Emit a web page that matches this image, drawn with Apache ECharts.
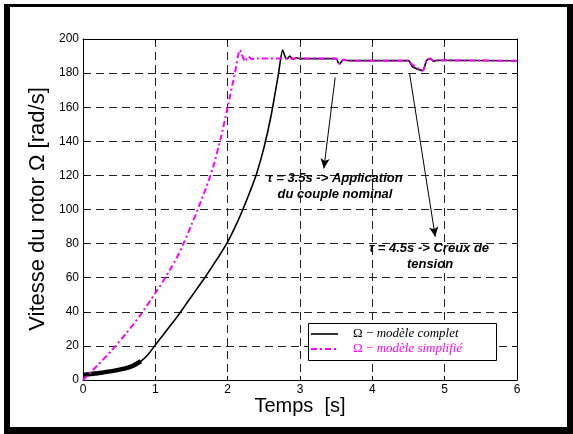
<!DOCTYPE html>
<html><head><meta charset="utf-8">
<script src="https://cdn.jsdelivr.net/npm/echarts@6/dist/echarts.min.js"></script>
<style>html,body{margin:0;padding:0;background:#fff}#c{width:573px;height:434px}</style>
</head><body><div id="c"></div>
<script>
// Temps [s] et vitesse [rad/s] — modèle complet
const tComplet = [0, 0.2, 0.4, 0.6, 0.7, 0.8, 0.9, 1.0, 1.1, 1.2, 1.3, 1.4, 1.5, 1.6, 1.7, 1.8, 1.9, 2.0, 2.1, 2.2, 2.3, 2.4, 2.5, 2.6, 2.7, 2.76, 2.8, 2.82, 2.86, 2.9, 2.95, 3.0, 3.5, 3.53, 3.55, 3.6, 3.63, 3.7, 4.5, 4.55, 4.65, 4.7, 4.75, 4.8, 4.85, 4.9, 6.0];
const vComplet = [3, 4, 5.2, 7, 8.5, 11, 15, 20.5, 26, 31.5, 37, 43, 49, 55, 61, 67.5, 74, 81, 89.5, 99, 109.5, 121, 136, 155, 179, 193.5, 189, 188.3, 190, 188.3, 189, 188.5, 188.5, 186, 185.5, 188, 187.5, 187.3, 187.3, 184, 182, 181.5, 187.5, 188.5, 187, 187.5, 187.2];
// modèle simplifié
const tSimple = [0, 0.2, 0.4, 0.6, 0.8, 1.0, 1.1, 1.2, 1.3, 1.4, 1.5, 1.6, 1.7, 1.8, 1.9, 2.0, 2.1, 2.17, 2.24, 2.29, 2.33, 2.4, 3.5, 3.53, 3.55, 3.6, 3.63, 3.7, 4.5, 4.55, 4.7, 4.75, 4.8, 4.85, 4.9, 6.0];
const vSimple = [0, 8.5, 17.5, 27.5, 38.5, 51, 57.5, 64.5, 72, 81, 91, 101.5, 112.5, 125, 141, 160, 180, 193.6, 186.8, 189.7, 188.3, 188.5, 188.5, 186, 185.5, 188, 187.5, 187.3, 187.3, 185, 181.5, 187.5, 188.5, 187, 187.5, 187.2];
// zone bruitée au démarrage (modèle complet)
const bandEndTime = 0.8;
const xTicks = [0, 1, 2, 3, 4, 5, 6];
const yTicks = [0, 20, 40, 60, 80, 100, 120, 140, 160, 180, 200];
const xLabel = 'Temps  [s]';
const yLabel = 'Vitesse du rotor Ω [rad/s]';
const legendComplet = 'modèle complet';
const legendSimple = 'modèle simplifié';
const note1 = ['τ = 3.5s -> Application', 'du couple nominal'];
const note2 = ['τ = 4.5s -> Creux de', 'tension'];
const arrow1 = [[3.486, 177.4], [3.33, 124.1]];
const arrow2 = [[4.515, 179.7], [4.87, 84]];

const dComplet = tComplet.map((t, i) => [t, vComplet[i]]);
const dSimple = tSimple.map((t, i) => [t, vSimple[i]]);
const dBand = dComplet.filter(p => p[0] <= bandEndTime);

const FONT = '"Liberation Sans", Arial, sans-serif';
const SERIF = '"Liberation Serif", "Times New Roman", serif';

const chart = echarts.init(document.getElementById('c'), null, {renderer: 'canvas'});
const dash = {type: [8, 5], color: '#222', width: 1};
chart.setOption({
  animation: false,
  backgroundColor: 'transparent',
  grid: {left: 83, right: 56, top: 39, bottom: 54, containLabel: false},
  xAxis: [{
    type: 'value', min: xTicks[0], max: xTicks[xTicks.length - 1], interval: 1,
    axisLine: {show: true, onZero: false, lineStyle: {color: '#000', width: 1}},
    axisTick: {show: true, inside: true, length: 4, lineStyle: {color: '#000'}},
    axisLabel: {color: '#000', fontSize: 12, fontFamily: FONT, margin: 4},
    splitLine: {show: true, lineStyle: dash}
  }, {
    type: 'value', position: 'top', min: xTicks[0], max: xTicks[xTicks.length - 1], interval: 1,
    axisLine: {show: true, onZero: false, lineStyle: {color: '#000', width: 1}},
    axisTick: {show: true, inside: true, length: 4, lineStyle: {color: '#000'}},
    axisLabel: {show: false}, splitLine: {show: false}
  }],
  yAxis: [{
    type: 'value', min: yTicks[0], max: yTicks[yTicks.length - 1], interval: 20,
    axisLine: {show: true, onZero: false, lineStyle: {color: '#000', width: 1}},
    axisTick: {show: true, inside: true, length: 4, lineStyle: {color: '#000'}},
    axisLabel: {color: '#000', fontSize: 12, fontFamily: FONT, margin: 4},
    splitLine: {show: true, lineStyle: dash}
  }, {
    type: 'value', position: 'right', min: yTicks[0], max: yTicks[yTicks.length - 1], interval: 20,
    axisLine: {show: true, onZero: false, lineStyle: {color: '#000', width: 1}},
    axisTick: {show: true, inside: true, length: 4, lineStyle: {color: '#000'}},
    axisLabel: {show: false}, splitLine: {show: false}
  }],
  series: [{
    name: 'band', type: 'line', data: dBand, showSymbol: false, symbol: 'none',
    smooth: 0.2,
    lineStyle: {color: '#000', width: 4.5}, z: 3
  }, {
    name: 'complet', type: 'line', data: dComplet, showSymbol: false, symbol: 'none',
    smooth: 0.2,
    lineStyle: {color: '#000', width: 1.6}, z: 3,
    markLine: {
      silent: true, symbol: ['none', 'arrow'], symbolSize: [7, 10], animation: false,
      label: {show: false},
      lineStyle: {color: '#000', width: 1, type: 'solid'},
      data: [
        [{coord: arrow1[0]}, {coord: arrow1[1]}],
        [{coord: arrow2[0]}, {coord: arrow2[1]}]
      ]
    }
  }, {
    name: 'simplifie', type: 'line', data: dSimple, showSymbol: false, symbol: 'none',
    smooth: 0.2,
    lineStyle: {color: '#ff00ff', width: 2, type: [6, 3, 2, 3]}, z: 4
  }],
  graphic: [
    {type: 'rect', z: -10, shape: {x: 4, y: 4, width: 569, height: 430}, style: {fill: '#000'}},
    {type: 'rect', z: -9, shape: {x: 10, y: 7, width: 557, height: 420}, style: {fill: '#fff'}},
    {type: 'text', z: 10, x: 38, y: 209, rotation: Math.PI / 2,
      style: {text: yLabel, font: '22px ' + FONT, fill: '#000', align: 'center', verticalAlign: 'middle'}},
    {type: 'text', z: 10, x: 300, y: 406,
      style: {text: xLabel, font: '20px ' + FONT, fill: '#000', align: 'center', verticalAlign: 'middle'}},
    {type: 'text', z: 50, x: 335, y: 178,
      style: {text: note1[0], font: 'italic bold 13px ' + FONT, fill: '#000', align: 'center', verticalAlign: 'middle'}},
    {type: 'text', z: 50, x: 335, y: 194,
      style: {text: note1[1], font: 'italic bold 13px ' + FONT, fill: '#000', align: 'center', verticalAlign: 'middle'}},
    {type: 'text', z: 50, x: 429, y: 248,
      style: {text: note2[0], font: 'italic bold 13px ' + FONT, fill: '#000', align: 'center', verticalAlign: 'middle'}},
    {type: 'text', z: 50, x: 430, y: 264,
      style: {text: note2[1], font: 'italic bold 13px ' + FONT, fill: '#000', align: 'center', verticalAlign: 'middle'}},
    {type: 'rect', z: 100, shape: {x: 308.5, y: 323.5, width: 188, height: 37}, style: {fill: '#fff', stroke: '#000', lineWidth: 1}},
    {type: 'line', z: 101, shape: {x1: 311, y1: 334, x2: 338, y2: 334}, style: {stroke: '#000', lineWidth: 1.6}},
    {type: 'line', z: 101, shape: {x1: 311, y1: 349, x2: 338, y2: 349}, style: {stroke: '#ff00ff', lineWidth: 2, lineDash: [6, 3, 2, 3]}},
    {type: 'text', z: 101, x: 353, y: 334,
      style: {text: '{a|Ω} {a|−} {b|' + legendComplet + '}', verticalAlign: 'middle',
        rich: {a: {font: '13px ' + SERIF, fill: '#000'}, b: {font: 'italic 13px ' + SERIF, fill: '#000'}}}},
    {type: 'text', z: 101, x: 353, y: 349,
      style: {text: '{a|Ω} {a|−} {b|' + legendSimple + '}', verticalAlign: 'middle',
        rich: {a: {font: '13px ' + SERIF, fill: '#ff00ff'}, b: {font: 'italic 13px ' + SERIF, fill: '#ff00ff'}}}}
  ]
});
</script>
</body></html>
